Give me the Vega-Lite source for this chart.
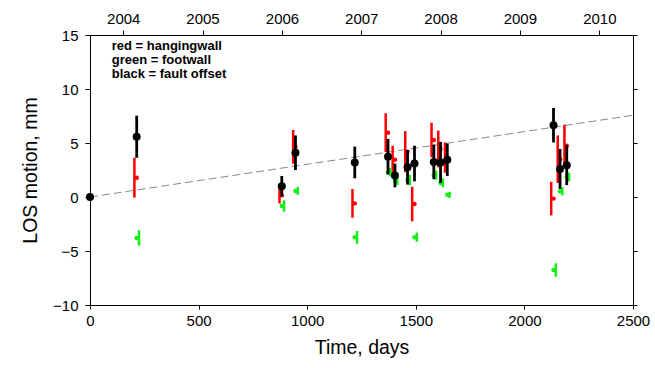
{
  "$schema": "https://vega.github.io/schema/vega-lite/v6.json",
  "autosize": "none",
  "width": 543,
  "height": 270,
  "padding": {"left": 90, "top": 35, "right": 22, "bottom": 63},
  "background": "white",
  "config": {
    "view": {"stroke": "black", "strokeWidth": 1},
    "font": "Liberation Sans",
    "axis": {
      "domainColor": "black", "tickColor": "black", "labelColor": "black", "titleColor": "black",
      "grid": false, "labelFont": "Liberation Sans", "titleFont": "Liberation Sans",
      "labelFontSize": 15, "titleFontSize": 19.5, "titleFontWeight": "normal", "domainWidth": 1, "tickWidth": 1
    }
  },
  "datasets": {
    "obs": [
      {"day": 0, "series": "black", "value": 0, "lo": 0, "hi": 0},
      {"day": 215, "series": "black", "value": 5.58, "lo": 3.63, "hi": 7.53},
      {"day": 883, "series": "black", "value": 1.0, "lo": 0.05, "hi": 1.95},
      {"day": 946, "series": "black", "value": 4.1, "lo": 2.5, "hi": 5.7},
      {"day": 1219, "series": "black", "value": 3.2, "lo": 1.73, "hi": 4.67},
      {"day": 1372, "series": "black", "value": 3.73, "lo": 2.08, "hi": 5.38},
      {"day": 1404, "series": "black", "value": 2.0, "lo": 0.9, "hi": 3.1},
      {"day": 1462, "series": "black", "value": 2.75, "lo": 1.15, "hi": 4.35},
      {"day": 1494, "series": "black", "value": 3.1, "lo": 1.45, "hi": 4.75},
      {"day": 1583, "series": "black", "value": 3.25, "lo": 1.65, "hi": 4.85},
      {"day": 1614, "series": "black", "value": 3.2, "lo": 1.3, "hi": 5.1},
      {"day": 1645, "series": "black", "value": 3.45, "lo": 1.95, "hi": 4.95},
      {"day": 2134, "series": "black", "value": 6.65, "lo": 5.05, "hi": 8.25},
      {"day": 2164, "series": "black", "value": 2.6, "lo": 0.75, "hi": 4.45},
      {"day": 2195, "series": "black", "value": 2.95, "lo": 1.1, "hi": 4.8},
      {"day": 215, "series": "red", "value": 1.79, "lo": -0.06, "hi": 3.64},
      {"day": 883, "series": "red", "value": 0.15, "lo": -0.6, "hi": 0.9},
      {"day": 946, "series": "red", "value": 4.65, "lo": 3.1, "hi": 6.2},
      {"day": 1219, "series": "red", "value": -0.59, "lo": -1.92, "hi": 0.74},
      {"day": 1372, "series": "red", "value": 5.95, "lo": 4.15, "hi": 7.75},
      {"day": 1404, "series": "red", "value": 3.45, "lo": 2.15, "hi": 4.75},
      {"day": 1462, "series": "red", "value": 4.2, "lo": 2.3, "hi": 6.1},
      {"day": 1494, "series": "red", "value": -0.65, "lo": -2.25, "hi": 0.95},
      {"day": 1583, "series": "red", "value": 5.28, "lo": 3.68, "hi": 6.88},
      {"day": 1614, "series": "red", "value": 4.45, "lo": 2.75, "hi": 6.15},
      {"day": 1645, "series": "red", "value": 3.65, "lo": 2.25, "hi": 5.05},
      {"day": 2134, "series": "red", "value": -0.15, "lo": -1.7, "hi": 1.4},
      {"day": 2164, "series": "red", "value": 3.5, "lo": 1.3, "hi": 5.7},
      {"day": 2195, "series": "red", "value": 4.75, "lo": 2.8, "hi": 6.7},
      {"day": 215, "series": "green", "value": -3.79, "lo": -4.5, "hi": -3.08},
      {"day": 883, "series": "green", "value": -0.83, "lo": -1.36, "hi": -0.3},
      {"day": 946, "series": "green", "value": 0.56, "lo": 0.2, "hi": 0.92},
      {"day": 1219, "series": "green", "value": -3.73, "lo": -4.33, "hi": -3.15},
      {"day": 1372, "series": "green", "value": 2.28, "lo": 1.9, "hi": 2.7},
      {"day": 1404, "series": "green", "value": 1.5, "lo": 1.1, "hi": 1.9},
      {"day": 1462, "series": "green", "value": 1.57, "lo": 1.1, "hi": 2.05},
      {"day": 1494, "series": "green", "value": -3.72, "lo": -4.14, "hi": -3.3},
      {"day": 1583, "series": "green", "value": 2.02, "lo": 1.6, "hi": 2.45},
      {"day": 1614, "series": "green", "value": 1.3, "lo": 0.9, "hi": 1.72},
      {"day": 1645, "series": "green", "value": 0.2, "lo": -0.08, "hi": 0.48},
      {"day": 2134, "series": "green", "value": -6.76, "lo": -7.38, "hi": -6.14},
      {"day": 2164, "series": "green", "value": 0.52, "lo": 0.15, "hi": 0.9},
      {"day": 2195, "series": "green", "value": 1.85, "lo": 1.45, "hi": 2.25}
    ],
    "trend": [
      {"day": 0, "value": 0},
      {"day": 2500, "value": 7.57}
    ]
  },
  "resolve": {"axis": {"x": "independent", "y": "independent"}},
  "layer": [
    {
      "data": {"name": "trend"},
      "mark": {"type": "line", "color": "#888888", "strokeWidth": 1, "strokeDash": [8, 4], "clip": true},
      "encoding": {
        "x": {"field": "day", "type": "quantitative", "scale": {"domain": [0, 2500], "nice": false, "zero": false},
          "axis": {"orient": "top", "values": [153, 518, 884, 1249, 1614, 1979, 2345],
            "labelExpr": "'' + (round((datum.value - 153) / 365.25) + 2004)",
            "tickSize": 5, "labelPadding": 4, "title": null, "domain": true}},
        "y": {"field": "value", "type": "quantitative", "scale": {"domain": [-10, 15], "nice": false, "zero": false},
          "axis": {"orient": "right", "values": [-10, -5, 0, 5, 10, 15], "labels": false, "tickSize": 4, "title": null}}
      }
    },
    {
      "data": {"name": "obs"},
      "transform": [{"filter": "datum.series == 'red'"}],
      "mark": {"type": "point", "filled": true, "shape": "circle", "size": 20, "color": "#ff0000", "opacity": 1},
      "encoding": {
        "x": {"field": "day", "type": "quantitative", "axis": null},
        "y": {"field": "value", "type": "quantitative", "axis": null}
      }
    },
    {
      "data": {"name": "obs"},
      "transform": [{"filter": "datum.series == 'red'"}],
      "mark": {"type": "rule", "color": "#ff0000", "strokeWidth": 2.5, "xOffset": -2.3},
      "encoding": {
        "x": {"field": "day", "type": "quantitative", "axis": null},
        "y": {"field": "lo", "type": "quantitative", "axis": null},
        "y2": {"field": "hi"}
      }
    },
    {
      "data": {"name": "obs"},
      "transform": [{"filter": "datum.series == 'green'"}],
      "mark": {"type": "point", "filled": true, "shape": "circle", "size": 20, "color": "#11f011", "opacity": 1},
      "encoding": {
        "x": {"field": "day", "type": "quantitative", "axis": null},
        "y": {"field": "value", "type": "quantitative", "axis": null}
      }
    },
    {
      "data": {"name": "obs"},
      "transform": [{"filter": "datum.series == 'green'"}],
      "mark": {"type": "rule", "color": "#11f011", "strokeWidth": 2.5, "xOffset": 2.3},
      "encoding": {
        "x": {"field": "day", "type": "quantitative", "axis": null},
        "y": {"field": "lo", "type": "quantitative", "axis": null},
        "y2": {"field": "hi"}
      }
    },
    {
      "data": {"name": "obs"},
      "transform": [{"filter": "datum.series == 'black'"}],
      "mark": {"type": "rule", "color": "black", "strokeWidth": 2.8},
      "encoding": {
        "x": {"field": "day", "type": "quantitative", "axis": null},
        "y": {"field": "lo", "type": "quantitative", "axis": null},
        "y2": {"field": "hi"}
      }
    },
    {
      "data": {"name": "obs"},
      "transform": [{"filter": "datum.series == 'black'"}],
      "mark": {"type": "point", "filled": true, "shape": "circle", "size": 64, "color": "black", "opacity": 1},
      "encoding": {
        "x": {"field": "day", "type": "quantitative",
          "axis": {"orient": "bottom", "values": [0, 500, 1000, 1500, 2000, 2500], "format": "d", "tickSize": 4, "labelPadding": 4,
            "title": "Time, days", "titlePadding": 10, "labelFlush": false}},
        "y": {"field": "value", "type": "quantitative",
          "axis": {"orient": "left", "values": [-10, -5, 0, 5, 10, 15], "tickSize": 5, "labelPadding": 7,
            "title": "LOS motion, mm", "titlePadding": 12}}
      }
    },
    {
      "data": {"values": [{}]},
      "mark": {"type": "text", "text": ["red = hangingwall", "green = footwall", "black = fault offset"],
        "align": "left", "baseline": "top", "fontSize": 13, "fontWeight": "bold", "lineHeight": 13.6,
        "font": "Liberation Sans", "color": "black"},
      "encoding": {
        "x": {"datum": 100, "type": "quantitative", "axis": null},
        "y": {"datum": 14.5, "type": "quantitative", "axis": null}
      }
    }
  ]
}
